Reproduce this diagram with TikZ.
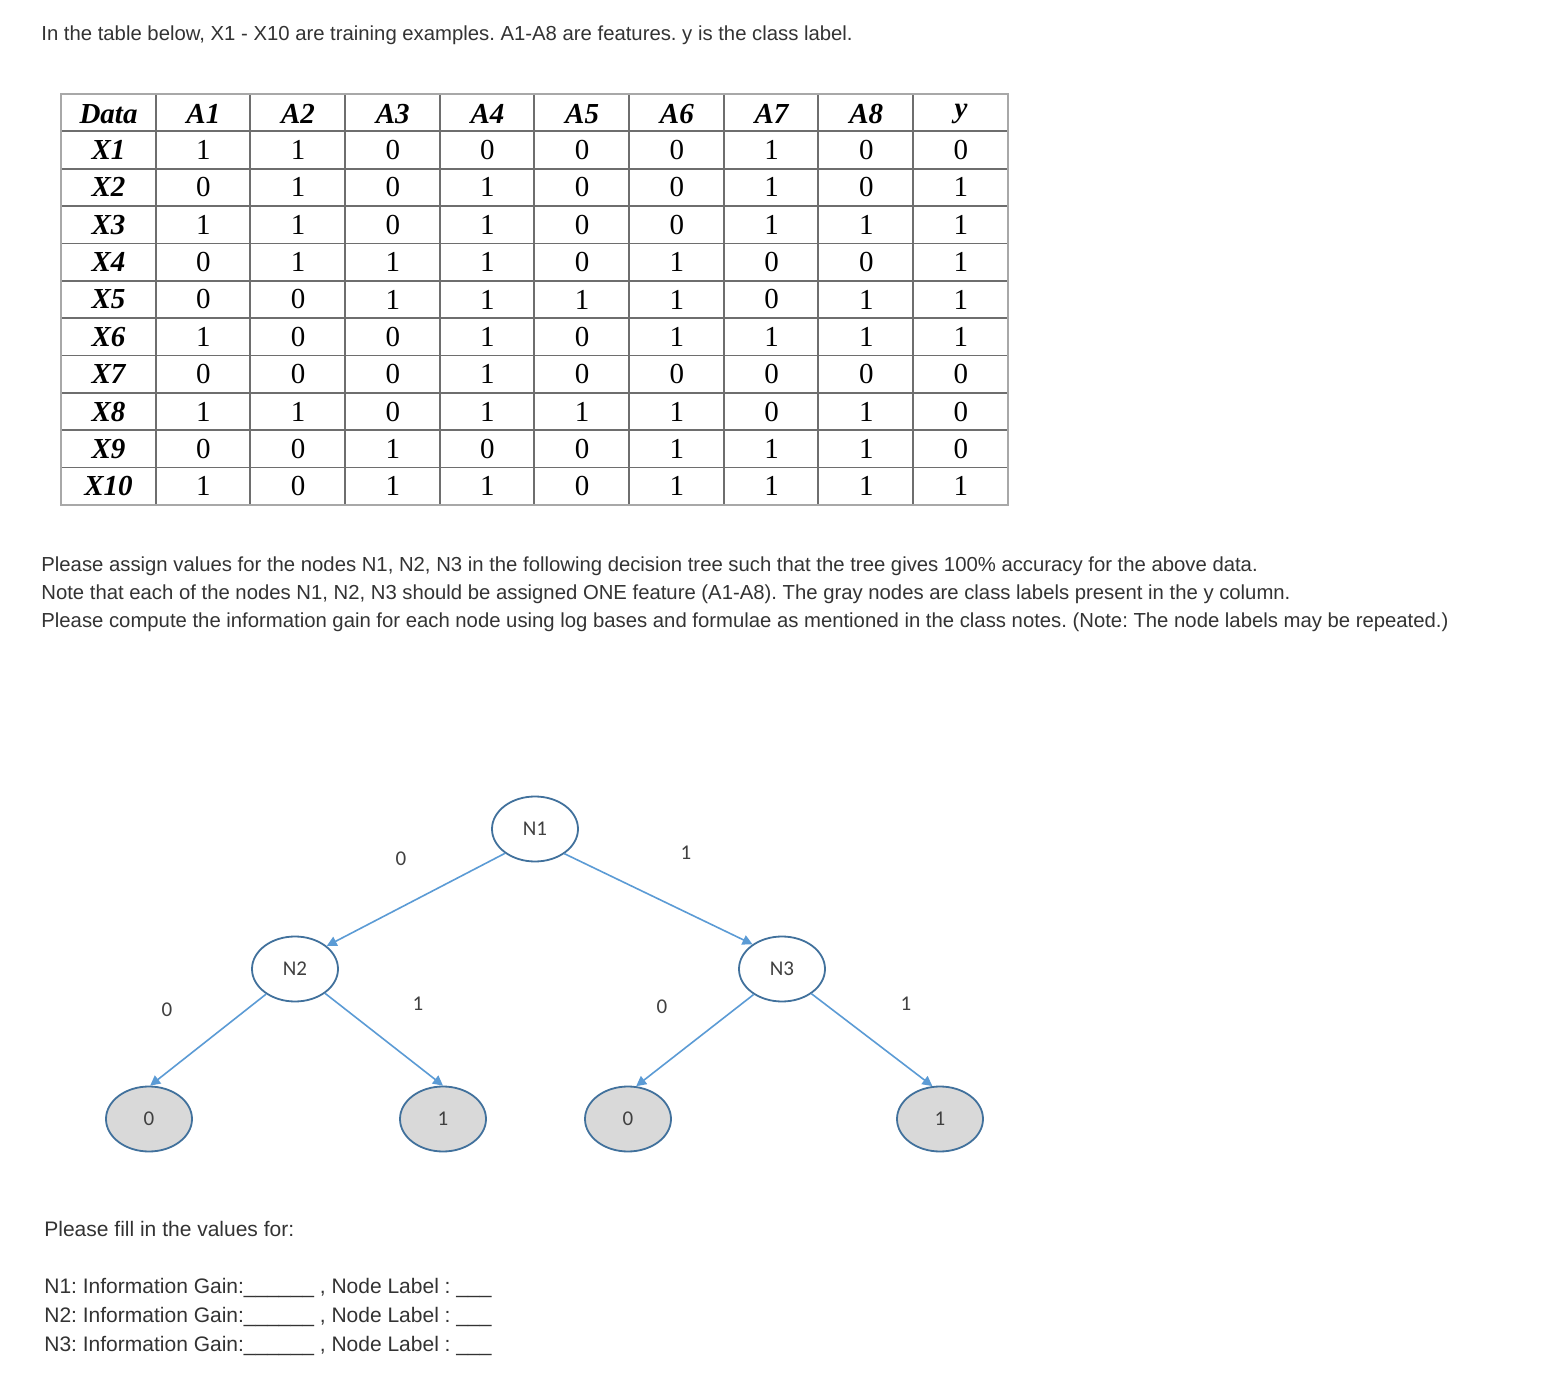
\documentclass[tikz,border=0pt]{standalone}
\usepackage{fontspec}
\setmainfont{Liberation Sans}
\newfontfamily\tabfont{Liberation Serif}
\newfontfamily\treefont{Carlito}
\usetikzlibrary{shapes.geometric,arrows.meta}
\definecolor{txt}{HTML}{333333}
\definecolor{gridc}{HTML}{6E6E6E}
\definecolor{edgec}{HTML}{5B9BD5}
\definecolor{nodeb}{HTML}{41719C}
\definecolor{leaff}{HTML}{D9D9D9}
\tikzset{
  para/.style={anchor=base west, inner sep=0pt, text=txt, font=\frenchspacing\fontsize{10.15pt}{12pt}\selectfont},
  parab/.style={para, font=\frenchspacing\fontsize{10.5pt}{12pt}\selectfont},
  hdr/.style={inner sep=0pt, font=\tabfont\fontsize{14.5pt}{16pt}\selectfont\bfseries\itshape, text=black},
  cell/.style={inner sep=0pt, font=\tabfont\fontsize{14.5pt}{16pt}\selectfont, text=black},
  gridline/.style={draw=gridc, line width=0.9pt},
  tnode/.style={ellipse, draw=nodeb, line width=0.9pt, fill=white, minimum width=43pt, minimum height=32.5pt, inner sep=0pt, font=\treefont\fontsize{10.5pt}{12pt}\selectfont, text=black!75},
  leaf/.style={tnode, fill=leaff},
  tedge/.style={draw=edgec, line width=0.8pt, -{Triangle[width=5pt,length=5pt]}},
  elab/.style={inner sep=0pt, font=\treefont\fontsize{10.5pt}{12pt}\selectfont, text=black!75}
}
\begin{document}
\begin{tikzpicture}[x=0.5pt,y=-0.5pt]
\useasboundingbox (0,0) rectangle (1544,1390);
\fill[white] (0,0) rectangle (1544,1390);

% intro text
\node[para] (intro) at (41,41) {In the table below, X1 - X10 are training examples. A1-A8 are features. y is the class label.};

% table grid
\foreach \x in {61,156,250,345,440,534,629,724,818,913,1008}
  \draw[gridline] (\x,94) -- (\x,505);
\foreach \i in {0,...,11}
  \draw[gridline] (61,{94+37.36*\i}) -- (1008,{94+37.36*\i});
\draw[draw=gridc!60, line width=1.4pt] (61,94) rectangle (1008,505);

% header
\foreach \h [count=\c] in {Data,A1,A2,A3,A4,A5,A6,A7,A8,y} {
  \pgfmathsetmacro{\cx}{\c==1 ? 108.5 : 61+95+94.7*(\c-2)+47.35}
  \node[hdr] (h\c) at (\cx,114) {\h};
}
% rows
\foreach \r/\vals in {1/{1,1,0,0,0,0,1,0,0},2/{0,1,0,1,0,0,1,0,1},3/{1,1,0,1,0,0,1,1,1},4/{0,1,1,1,0,1,0,0,1},5/{0,0,1,1,1,1,0,1,1},6/{1,0,0,1,0,1,1,1,1},7/{0,0,0,1,0,0,0,0,0},8/{1,1,0,1,1,1,0,1,0},9/{0,0,1,0,0,1,1,1,0},10/{1,0,1,1,0,1,1,1,1}} {
  \pgfmathsetmacro{\cy}{94+37.36*\r+18.68}
  \node[hdr] (x\r) at (108.5,\cy) {X\r};
  \foreach \v [count=\c] in \vals {
    \pgfmathsetmacro{\cx}{156+94.7*(\c-1)+47.35}
    \node[cell] (c\r-\c) at (\cx,\cy) {\v};
  }
}

% paragraph
\node[para] (p1) at (41,572) {Please assign values for the nodes N1, N2, N3 in the following decision tree such that the tree gives 100\% accuracy for the above data.};
\node[para] (p2) at (41,600) {Note that each of the nodes N1, N2, N3 should be assigned ONE feature (A1-A8). The gray nodes are class labels present in the y column.};
\node[para] (p3) at (41,628) {Please compute the information gain for each node using log bases and formulae as mentioned in the class notes. (Note: The node labels may be repeated.)};

% tree
\node[tnode] (n1) at (535,829) {N1};
\node[tnode] (n2) at (295,969) {N2};
\node[tnode] (n3) at (782,969) {N3};
\node[leaf] (l1) at (149,1119) {0};
\node[leaf] (l2) at (443,1119) {1};
\node[leaf] (l3) at (628,1119) {0};
\node[leaf] (l4) at (940,1119) {1};

\draw[tedge] (n1.219) -- (n2.36);
\draw[tedge] (n1.-40) -- (n3.140);
\draw[tedge] (n2.-139) -- (l1.88);
\draw[tedge] (n2.-39) -- (l2.90);
\draw[tedge] (n3.-138) -- (l3.76);
\draw[tedge] (n3.-40) -- (l4.103);

\node[elab] (e1) at (401,859) {0};
\node[elab] (e2) at (686,853) {1};
\node[elab] (e3) at (167,1010) {0};
\node[elab] (e4) at (418,1004) {1};
\node[elab] (e5) at (662,1007) {0};
\node[elab] (e6) at (906,1004) {1};

% fill-in
\node[parab] (f0) at (44,1236) {Please fill in the values for:};
\node[parab] (f1) at (44,1293) {N1: Information Gain:\_\_\_\_\_\_ , Node Label : \_\_\_};
\node[parab] (f2) at (44,1322) {N2: Information Gain:\_\_\_\_\_\_ , Node Label : \_\_\_};
\node[parab] (f3) at (44,1351) {N3: Information Gain:\_\_\_\_\_\_ , Node Label : \_\_\_};
\end{tikzpicture}
\end{document}
